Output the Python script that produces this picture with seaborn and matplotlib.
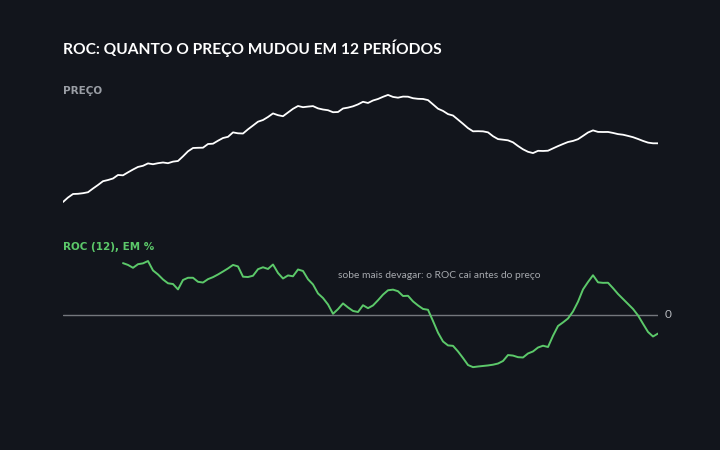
import numpy as np
import pandas as pd
import matplotlib
matplotlib.use("Agg")
import matplotlib.pyplot as plt
import seaborn as sns

# ============================================
# Dados
# ============================================
preco = [
    100.00, 100.83, 101.48, 101.52, 101.63, 101.81, 102.50, 103.15, 103.85, 104.07,
    104.35, 105.00, 104.94, 105.49, 106.01, 106.49, 106.70, 107.14, 106.99, 107.18,
    107.31, 107.18, 107.47, 107.59, 108.45, 109.38, 109.99, 110.03, 110.05, 110.73,
    110.79, 111.34, 111.84, 112.06, 112.88, 112.71, 112.67, 113.45, 114.15, 114.86,
    115.17, 115.73, 116.39, 116.06, 115.87, 116.56, 117.24, 117.76, 117.54, 117.65,
    117.74, 117.32, 117.11, 116.98, 116.61, 116.65, 117.30, 117.46, 117.70, 118.06,
    118.54, 118.32, 118.78, 119.06, 119.46, 119.81, 119.44, 119.30, 119.50, 119.48,
    119.20, 119.09, 119.06, 118.85, 118.06, 117.26, 116.85, 116.26, 116.00, 115.24,
    114.47, 113.67, 113.08, 113.10, 113.07, 112.89, 112.17, 111.64, 111.53, 111.41,
    111.04, 110.36, 109.75, 109.29, 109.05, 109.47, 109.44, 109.49, 109.92, 110.34,
    110.73, 111.10, 111.30, 111.62, 112.23, 112.86, 113.25, 112.97, 112.95, 112.96,
    112.78, 112.56, 112.45, 112.23, 111.99, 111.66, 111.30, 110.99, 110.86, 110.86,
]

# ROC(12) em %, começa no período 12
roc = [
    4.89, 4.72, 4.45, 4.79, 4.87, 5.09, 4.20, 3.82, 3.35, 2.99,
    2.92, 2.41, 3.30, 3.51, 3.51, 3.13, 3.06, 3.38, 3.57, 3.82,
    4.10, 4.39, 4.72, 4.58, 3.61, 3.58, 3.70, 4.32, 4.50, 4.34,
    4.76, 3.96, 3.44, 3.73, 3.65, 4.29, 4.15, 3.37, 2.88, 2.03,
    1.60, 0.99, 0.11, 0.55, 1.09, 0.71, 0.38, 0.28, 0.92, 0.64,
    0.90, 1.39, 1.92, 2.33, 2.39, 2.24, 1.79, 1.81, 1.28, 0.90,
    0.57, 0.49, -0.57, -1.67, -2.50, -2.87, -2.91, -3.44, -4.06, -4.72,
    -4.92, -4.86, -4.81, -4.76, -4.69, -4.58, -4.34, -3.78, -3.83, -3.98,
    -4.01, -3.63, -3.44, -3.07, -2.90, -3.02, -1.96, -1.04, -0.70, -0.33,
    0.33, 1.25, 2.41, 3.11, 3.75, 3.08, 3.03, 3.04, 2.53, 1.98,
    1.51, 1.04, 0.57, -0.04, -0.83, -1.60, -2.03, -1.75,
]
periodo_roc = 12

titulo = "ROC: QUANTO O PREÇO MUDOU EM 12 PERÍODOS"
rotulo_preco = "PREÇO"
rotulo_roc = "ROC (12), EM %"
nota = "sobe mais devagar: o ROC cai antes do preço"

df_preco = pd.DataFrame({"t": np.arange(len(preco)), "preco": preco})
df_roc = pd.DataFrame({"t": np.arange(periodo_roc, periodo_roc + len(roc)), "roc": roc})

# ============================================
# Estilo
# ============================================
fundo = "#12151c"
verde = "#5cc96a"
cinza = "#9a9ea5"

sns.set_theme(style="dark")
plt.rcParams["font.family"] = ["Lato", "DejaVu Sans"]

fig = plt.figure(figsize=(7.2, 4.5), dpi=100, facecolor=fundo)
ax1 = fig.add_axes([0.0875, 0.5333, 0.8264, 0.2667])
ax2 = fig.add_axes([0.0875, 0.1667, 0.8264, 0.2667])

for ax in (ax1, ax2):
    ax.set_facecolor(fundo)
    for s in ax.spines.values():
        s.set_visible(False)
    ax.set_xticks([])
    ax.set_yticks([])
    ax.grid(False)
    ax.set_xlim(0, len(preco) - 1)

# ============================================
# Painel do preço
# ============================================
sns.lineplot(data=df_preco, x="t", y="preco", ax=ax1, color="white", linewidth=1.3)
ax1.set_ylim(98.52, 120.72)
ax1.set_xlabel("")
ax1.set_ylabel("")

# ============================================
# Painel do ROC
# ============================================
ax2.axhline(0, color="#74777d", linewidth=1.0, zorder=1)
sns.lineplot(data=df_roc, x="t", y="roc", ax=ax2, color=verde, linewidth=1.4, zorder=2)
ax2.set_ylim(-5.66, 5.66)
ax2.set_xlabel("")
ax2.set_ylabel("")
ax2.text(len(preco) - 1 + 1.3, 0, "0", color="#b8bbc0", fontsize=8.5, va="center", ha="left")
ax2.text(55, 3.77, nota, color="#a6a9ae", fontsize=7.4, va="center", ha="left")

# ============================================
# Textos
# ============================================
fig.text(0.0875, 1 - 48 / 450, titulo, color="white", fontsize=11.2, fontweight="bold",
         va="center", ha="left")
fig.text(0.0875, 1 - 91 / 450, rotulo_preco, color=cinza, fontsize=7.5, fontweight="bold",
         va="center", ha="left", family=["DejaVu Sans"])
fig.text(0.0875, 1 - 247 / 450, rotulo_roc, color=verde, fontsize=7.5, fontweight="bold",
         va="center", ha="left", family=["DejaVu Sans"])

fig.savefig("out.png", dpi=100, facecolor=fundo)
